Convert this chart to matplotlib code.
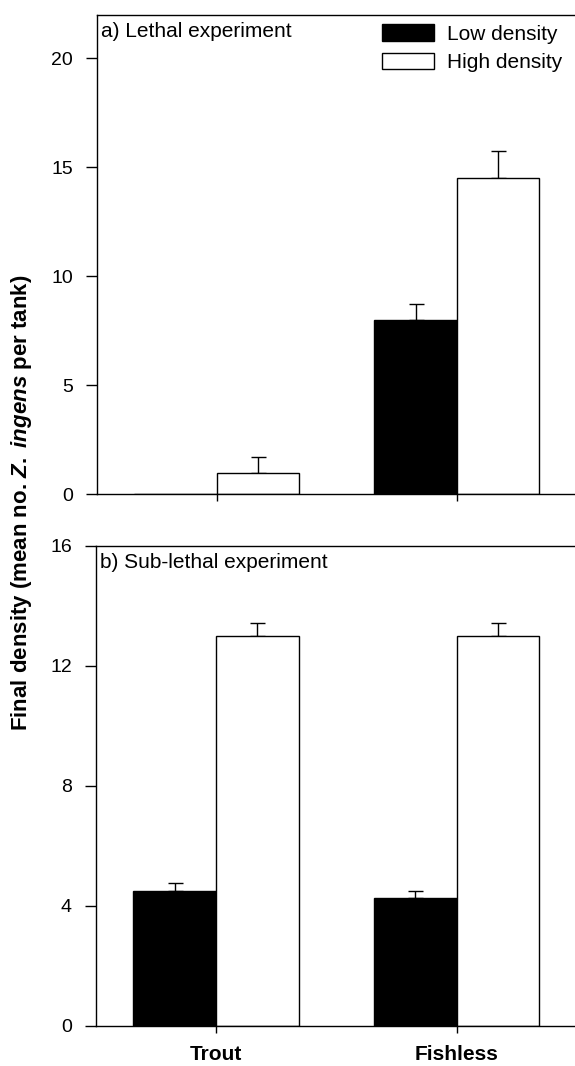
import matplotlib
matplotlib.use("Agg")
import matplotlib.pyplot as plt
import numpy as np
from matplotlib.patches import Patch

plt.rcParams['font.family'] = ['Liberation Sans', 'DejaVu Sans']
plt.rcParams['mathtext.fontset'] = 'custom'
plt.rcParams['mathtext.it'] = 'Liberation Sans:italic:bold'
plt.rcParams['mathtext.rm'] = 'Liberation Sans:bold'

groups = ["Trout", "Fishless"]
series = ["Low density", "High density"]

lethal_low = [0.0, 8.0]
lethal_low_err = [0.0, 0.72]
lethal_high = [1.0, 14.5]
lethal_high_err = [0.7, 1.25]

sub_low = [4.49, 4.25]
sub_low_err = [0.28, 0.23]
sub_high = [13.0, 13.0]
sub_high_err = [0.42, 0.42]

W, H = 575, 1066
fig = plt.figure(figsize=(W/100, H/100), dpi=100)

ax1 = fig.add_axes([96.7/W, 1-494.3/H, 480/W, (494.3-14.7)/H])
ax2 = fig.add_axes([95.7/W, 1-1025.5/H, 481.4/W, (1025.5-546)/H])

x = np.arange(len(groups))
bw = 0.343
fs_tick = 14
fs = 15

def draw(ax, low, low_err, high, high_err):
    ax.bar(x - bw/2, low, bw, color='black', edgecolor='black', linewidth=1,
           label=series[0], zorder=2)
    ax.bar(x + bw/2, high, bw, color='white', edgecolor='black', linewidth=1,
           label=series[1], zorder=2)
    for xs, v, e in ((x - bw/2, low, low_err), (x + bw/2, high, high_err)):
        for xi, vi, ei in zip(xs, v, e):
            if vi > 0:
                ax.errorbar(xi, vi, yerr=[[0], [ei]], fmt='none', ecolor='black',
                            elinewidth=1, capsize=5.4, capthick=1, zorder=1)
    ax.spines['right'].set_visible(False)
    for s in ('left', 'top', 'bottom'):
        ax.spines[s].set_linewidth(1)
    ax.tick_params(axis='y', direction='out', length=7.7, width=1, pad=9.5,
                   labelsize=fs_tick)
    ax.tick_params(axis='x', direction='out', length=5, width=1, labelsize=fs)
    ax.set_xticks(x)
    ax.set_xlim(-0.5, 1.5)

draw(ax1, lethal_low, lethal_low_err, lethal_high, lethal_high_err)
ax1.set_ylim(0, 22)
ax1.set_yticks([0, 5, 10, 15, 20])
ax1.set_xticklabels([])
fig.text(101/W, 1-36.7/H, "a) Lethal experiment", fontsize=fs, ha='left', va='baseline')
ax1.legend(handles=[Patch(facecolor='black', edgecolor='black', linewidth=1),
                    Patch(facecolor='white', edgecolor='black', linewidth=1)],
           labels=series, loc='upper left',
           bbox_to_anchor=((382.3-96.7)/480, 1 - (24.3-14.7)/(494.3-14.7)),
           borderaxespad=0, borderpad=0,
           frameon=False, fontsize=fs, handlelength=2.5, handleheight=0.83,
           labelspacing=0.45, handletextpad=0.6)

draw(ax2, sub_low, sub_low_err, sub_high, sub_high_err)
ax2.set_ylim(0, 16)
ax2.set_yticks([0, 4, 8, 12, 16])
ax2.set_xticklabels(groups, fontweight='bold')
ax2.tick_params(axis='x', pad=9)
fig.text(100/W, 1-568/H, "b) Sub-lethal experiment", fontsize=fs, ha='left', va='baseline')

fig.text(22/W, 1-503/H, r"Final density (mean no. $\mathit{Z.\ ingens}$ per tank)",
         rotation=90, ha='center', va='center', fontsize=16, fontweight='bold')

fig.savefig("out.png", dpi=100)
